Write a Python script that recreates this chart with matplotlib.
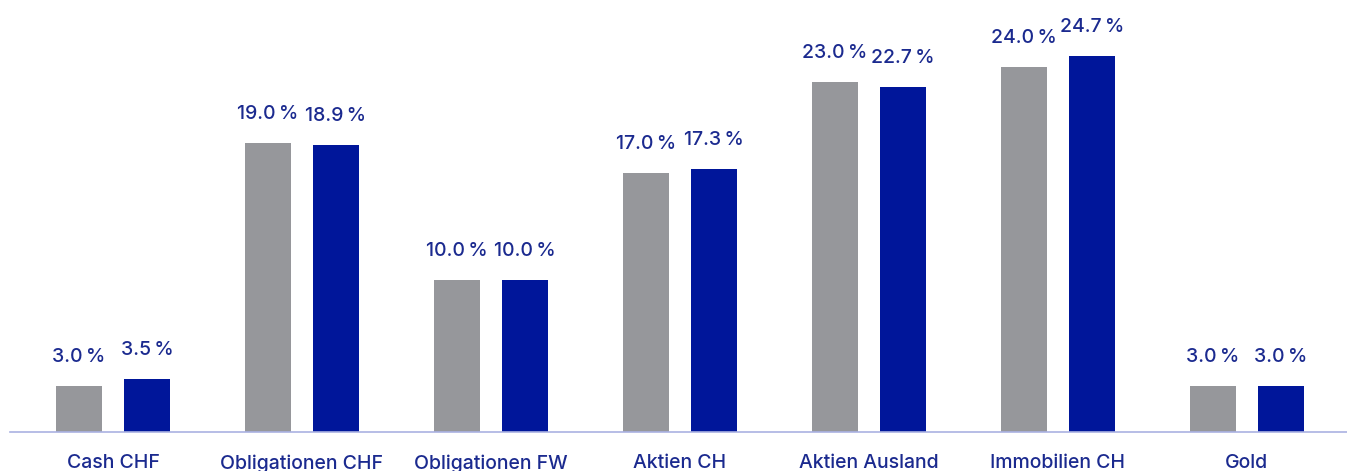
import matplotlib.pyplot as plt
import numpy as np

categories = ["Cash CHF", "Obligationen CHF", "Obligationen FW", "Aktien CH",
              "Aktien Ausland", "Immobilien CH", "Gold"]
strategy = [3.0, 19.0, 10.0, 17.0, 23.0, 24.0, 3.0]
actual = [3.5, 18.9, 10.0, 17.3, 22.7, 24.7, 3.0]

gray = "#96979b"
blue = "#00169a"
text_blue = "#1b2a8f"

plt.rcParams['font.family'] = ['Inter', 'DejaVu Sans']

fig = plt.figure(figsize=(13.47, 4.71), dpi=100)
ax = fig.add_axes([10 / 1347, 39 / 471, 1337 / 1347, 432 / 471])

x = np.arange(len(categories))
w = 0.243
off = 0.18
b1 = ax.bar(x - off, strategy, w, color=gray)
b2 = ax.bar(x + off, actual, w, color=blue)

for bars, vals in ((b1, strategy), (b2, actual)):
    for bar, v in zip(bars, vals):
        ax.annotate(f"{v:.1f}\u202f%", (bar.get_x() + bar.get_width() / 2, v),
                    xytext=(0, 20), textcoords="offset pixels",
                    ha="center", va="bottom", fontsize=14, color=text_blue,
                    fontweight="medium")

ax.set_xlim(-0.545, 6.53)
ax.set_ylim(0, 28.4)
ax.set_xticks(x)
ax.set_xticklabels(categories, fontsize=14, color=text_blue, fontweight="medium")
ax.tick_params(axis="x", length=0, pad=16)
ax.set_yticks([])
for s in ("top", "right", "left"):
    ax.spines[s].set_visible(False)
ax.spines["bottom"].set_color("#aab2e2")
ax.spines["bottom"].set_linewidth(1.2)

fig.savefig("out.png", dpi=100)
